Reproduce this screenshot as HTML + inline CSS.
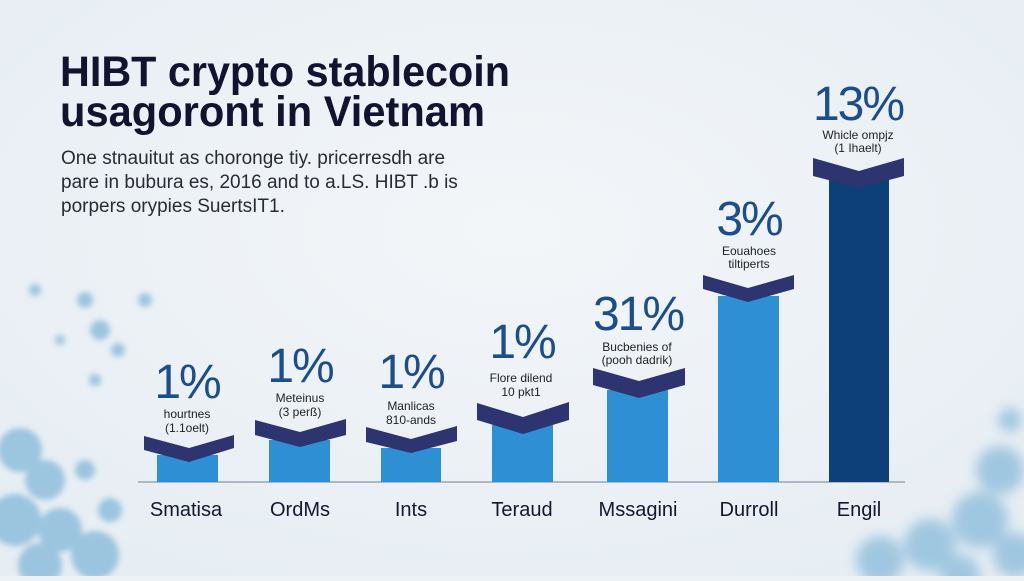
<!DOCTYPE html>
<html><head><meta charset="utf-8"><style>
html,body{margin:0;padding:0;}
body{width:1024px;height:576px;overflow:hidden;background:#edf2f7;font-family:"Liberation Sans",sans-serif;}
</style></head><body>
<svg width="1024" height="576" viewBox="0 0 1024 576" xmlns="http://www.w3.org/2000/svg">
<defs>
<radialGradient id="bg" cx="50%" cy="40%" r="70%"><stop offset="0" stop-color="#f3f6f9"/><stop offset="1" stop-color="#e6edf3"/></radialGradient>
<filter id="bl"><feGaussianBlur stdDeviation="3"/></filter>
<filter id="bl2"><feGaussianBlur stdDeviation="6"/></filter>
</defs>
<rect width="1024" height="576" fill="url(#bg)"/>
<g fill="#8fbedc" filter="url(#bl)" opacity="0.85">
<circle cx="20" cy="450" r="22"/><circle cx="45" cy="480" r="20"/><circle cx="15" cy="520" r="26"/><circle cx="60" cy="530" r="22"/><circle cx="95" cy="555" r="24"/><circle cx="40" cy="565" r="22"/><circle cx="110" cy="510" r="12"/><circle cx="85" cy="470" r="10"/>
<circle cx="100" cy="330" r="10"/><circle cx="85" cy="300" r="8"/><circle cx="118" cy="350" r="7"/><circle cx="35" cy="290" r="6"/><circle cx="145" cy="300" r="7"/><circle cx="95" cy="380" r="6"/><circle cx="60" cy="340" r="5"/>
</g>
<g fill="#8fbedc" filter="url(#bl2)" opacity="0.8">
<circle cx="1000" cy="470" r="24"/><circle cx="980" cy="520" r="28"/><circle cx="930" cy="545" r="26"/><circle cx="880" cy="560" r="24"/><circle cx="1015" cy="555" r="22"/><circle cx="960" cy="575" r="20"/><circle cx="1010" cy="420" r="12"/>
</g>
<text x="60" y="86" font-size="43" font-weight="bold" fill="#12132e" textLength="450" lengthAdjust="spacingAndGlyphs">HIBT crypto stablecoin</text>
<text x="60" y="126" font-size="43" font-weight="bold" fill="#12132e" textLength="425" lengthAdjust="spacingAndGlyphs">usagoront in Vietnam</text>
<g font-size="19" fill="#2a2a35">
<text x="61" y="164">One stnauitut as choronge tiy. pricerresdh are</text>
<text x="61" y="188">pare in bubura es, 2016 and to a.LS. HIBT .b is</text>
<text x="61" y="212">porpers orypies SuertsIT1.</text>
</g>
<line x1="138" y1="482" x2="905" y2="482" stroke="#9aa6b4" stroke-width="1.5"/>
<g fill="#2f8fd4">
<rect x="157" y="455" width="61" height="27"/>
<rect x="269" y="440" width="61" height="42"/>
<rect x="381" y="448" width="60" height="34"/>
<rect x="492" y="425" width="61" height="57"/>
<rect x="607" y="390" width="61" height="92"/>
<rect x="718" y="296" width="61" height="186"/>
</g>
<rect x="829" y="180" width="60" height="302" fill="#0d3f78"/>
<g fill="#2d3470">
<polygon points="144,436 189,448 234,435 234,448 189,462 144,450"/>
<polygon points="255,420 300,432 346,419 346,435 300,447 255,435"/>
<polygon points="366,427 411,439 457,426 457,441 411,453 366,442"/>
<polygon points="477,403 523,417 569,402 569,420 523,434 477,420"/>
<polygon points="593,368 639,381 685,368 685,385 639,398 593,385"/>
<polygon points="703,275 748,288 794,275 794,289 748,302 703,289"/>
<polygon points="813,158 859,171 904,158 904,176 859,188 813,176"/>
</g>
<g font-size="48" fill="#1c4d8f" text-anchor="middle" letter-spacing="-2">
<text x="187" y="398">1%</text>
<text x="300" y="382">1%</text>
<text x="411" y="388">1%</text>
<text x="522" y="358">1%</text>
<text x="638" y="330">31%</text>
<text x="749" y="235">3%</text>
<text x="858" y="120">13%</text>
</g>
<g font-size="12" fill="#222" text-anchor="middle">
<text x="187" y="418">hourtnes</text><text x="187" y="432">(1.1oelt)</text>
<text x="300" y="402">Meteinus</text><text x="300" y="416">(3 perß)</text>
<text x="411" y="410">Manlicas</text><text x="411" y="424">810-ands</text>
<text x="521" y="382">Flore dilend</text><text x="521" y="396">10 pkt1</text>
<text x="637" y="351">Bucbenies of</text><text x="637" y="364">(pooh dadrik)</text>
<text x="749" y="255">Eouahoes</text><text x="749" y="268">tiltiperts</text>
<text x="858" y="139">Whicle ompjz</text><text x="858" y="152">(1 Ihaelt)</text>
</g>
<g font-size="20" fill="#14172e" text-anchor="middle">
<text x="186" y="516">Smatisa</text>
<text x="300" y="516">OrdMs</text>
<text x="411" y="516">Ints</text>
<text x="522" y="516">Teraud</text>
<text x="638" y="516">Mssagini</text>
<text x="749" y="516">Durroll</text>
<text x="859" y="516">Engil</text>
</g>
</svg>
</body></html>
